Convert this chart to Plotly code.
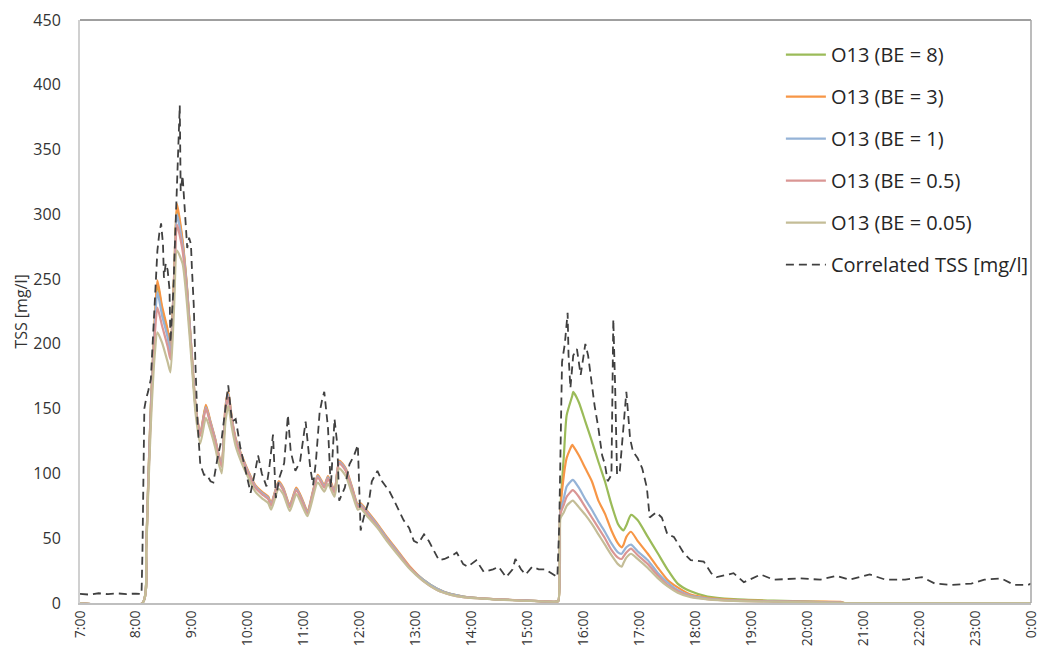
import plotly.graph_objects as go

# ---------------- data ----------------
tick_hours = list(range(7, 25))
tick_labels = ["7:00", "8:00", "9:00", "10:00", "11:00", "12:00", "13:00", "14:00",
               "15:00", "16:00", "17:00", "18:00", "19:00", "20:00", "21:00",
               "22:00", "23:00", "0:00"]

# Correlated TSS (dashed)
tss_time = ["7:00", "7:10", "7:20", "7:30", "7:40", "7:50", "8:00", "8:06", "8:07", "8:09",
            "8:11", "8:13", "8:16", "8:19", "8:21", "8:23", "8:25", "8:27", "8:29", "8:30",
            "8:32", "8:34", "8:36", "8:37", "8:40", "8:43", "8:45", "8:47", "8:48", "8:50",
            "8:52", "8:55", "8:57", "8:59", "9:00", "9:02", "9:04", "9:06", "9:09", "9:13",
            "9:16", "9:20", "9:23", "9:27", "9:32", "9:36", "9:39", "9:43", "9:47", "9:52",
            "9:57", "10:03", "10:08", "10:11", "10:15", "10:20", "10:23", "10:27", "10:30", "10:34",
            "10:39", "10:43", "10:46", "10:51", "10:56", "10:59", "11:02", "11:07", "11:10", "11:13",
            "11:17", "11:20", "11:22", "11:26", "11:29", "11:33", "11:36", "11:38", "11:44", "11:49",
            "11:54", "11:58", "12:01", "12:05", "12:10", "12:13", "12:19", "12:24", "12:32", "12:37",
            "12:42", "12:47", "12:53", "12:58", "13:03", "13:09", "13:14", "13:19", "13:25", "13:31",
            "13:40", "13:44", "13:51", "13:56", "14:05", "14:13", "14:23", "14:29", "14:37", "14:44",
            "14:47", "14:53", "14:58", "15:05", "15:12", "15:19", "15:27", "15:32", "15:34", "15:37",
            "15:40", "15:43", "15:44", "15:46", "15:49", "15:53", "15:57", "16:02", "16:05", "16:09",
            "16:12", "16:16", "16:20", "16:23", "16:26", "16:30", "16:31", "16:32", "16:34", "16:36",
            "16:39", "16:42", "16:46", "16:50", "16:53", "16:58", "17:03", "17:08", "17:11", "17:18",
            "17:24", "17:30", "17:37", "17:48", "17:55", "18:09", "18:17", "18:23", "18:41", "18:52",
            "19:10", "19:24", "19:52", "20:14", "20:31", "20:45", "21:07", "21:24", "21:45", "22:03",
            "22:17", "22:35", "22:56", "23:10", "23:28", "23:42", "23:57", "24:00"]
tss_val = [7, 6.5, 7.5, 6.8, 7.4, 6.9, 7.3, 7, 40, 150,
           158, 163, 173, 215, 242, 272, 285, 293, 277, 251,
           262, 257, 242, 201, 240, 308, 345, 384, 318, 330,
           308, 274, 282, 277, 259, 230, 180, 140, 107, 99,
           99, 94, 93, 110, 127, 152, 168, 140, 142, 120,
           104, 85, 102, 114, 100, 90, 104, 130, 81, 97,
           108, 145, 117, 102, 109, 125, 140, 104, 91, 109,
           147, 158, 163, 135, 89, 142, 122, 79, 89, 107,
           114, 122, 56, 68, 79, 94, 102, 94, 86, 79,
           71, 64, 58, 48, 46, 53, 48, 41, 33, 34,
           37, 39, 30, 28, 33, 24, 26, 28, 20, 26,
           34, 26, 22, 28, 26, 26, 22, 20, 60, 186,
           200, 224, 191, 166, 191, 196, 176, 200, 191, 166,
           152, 135, 114, 107, 94, 99, 160, 219, 166, 99,
           102, 127, 163, 127, 117, 112, 104, 89, 66, 70,
           66, 53, 51, 38, 33, 32, 23, 20, 23, 16,
           22, 18, 19, 18, 21, 18, 22, 18, 18, 20,
           15, 14, 15, 18, 19, 14, 14, 15]

# O13 model series (shared time axis)
o13_time = ["7:00", "8:07", "8:11", "8:13", "8:16", "8:20", "8:23", "8:28", "8:34", "8:37",
            "8:41", "8:44", "8:50", "8:55", "9:00", "9:04", "9:09", "9:15", "9:20", "9:25",
            "9:28", "9:32", "9:36", "9:39", "9:43", "9:47", "9:54", "10:01", "10:08", "10:15",
            "10:22", "10:25", "10:33", "10:38", "10:45", "10:52", "10:59", "11:04", "11:15", "11:22",
            "11:26", "11:33", "11:38", "11:45", "11:52", "11:58", "12:01", "12:08", "12:19", "12:29",
            "12:40", "12:54", "13:08", "13:23", "13:37", "13:51", "14:23", "14:58", "15:30", "15:33",
            "15:35", "15:39", "15:42", "15:48", "15:49", "15:55", "16:02", "16:09", "16:16", "16:23",
            "16:30", "16:37", "16:41", "16:43", "16:46", "16:51", "16:58", "17:09", "17:20", "17:30",
            "17:41", "17:55", "18:13", "18:41", "19:24", "20:06", "20:36", "20:40", "24:00"]
be_8 = [0, 0, 43, 89, 152, 214, 247, 227, 209, 195,
        252, 305, 278, 241, 190, 151, 130, 152, 139, 126,
        116, 106, 150, 161, 141, 126, 112, 100, 90, 85,
        81, 76, 93, 88, 75, 88, 78, 70, 98, 90,
        97, 86, 109, 103, 88, 75, 76, 70, 60, 50,
        40, 27, 18, 11, 7, 5, 3, 2, 1, 1.5,
        70, 114, 145, 160, 163, 155, 140, 125, 109, 94,
        76, 61, 57, 56, 60, 68, 64, 51, 38, 26,
        15, 9, 5, 3, 1.8, 1, 0.5, 0, 0]
be_3 = [0, 0, 43, 89, 152, 216, 249, 229, 211, 196,
        254, 308, 280, 242, 191, 152, 131, 153, 140, 127,
        117, 107, 152, 163, 142, 127, 113, 101, 91, 86,
        82, 77, 94, 89, 76, 89, 79, 71, 99, 91,
        98, 87, 110, 104, 89, 76, 77, 71, 61, 51,
        41, 28, 18, 11, 7, 5, 3, 2, 1, 1.5,
        70, 99, 112, 122, 121, 114, 104, 94, 79, 69,
        56, 46, 43, 45, 51, 55, 48, 38, 27, 18,
        12, 6.5, 4, 2.5, 1.5, 1, 0.8, 0, 0]
be_1 = [0, 0, 43, 88, 150, 212, 240, 222, 205, 192,
        248, 300, 276, 240, 190, 151, 130, 151, 139, 126,
        116, 106, 150, 161, 141, 126, 112, 100, 90, 85,
        81, 76, 93, 88, 75, 88, 78, 70, 98, 90,
        97, 86, 109, 103, 88, 75, 76, 70, 60, 50,
        40, 27, 18, 11, 7, 5, 3, 2, 1, 1.5,
        69, 81, 90, 95, 95, 89, 80, 72, 63, 55,
        46, 39, 38, 40, 43, 45, 40, 33, 23, 16,
        10, 5.5, 3.5, 2, 1.3, 0.8, 0.4, 0, 0]
be_05 = [0, 0, 42, 86, 146, 204, 228, 214, 198, 188,
         243, 292, 272, 236, 188, 150, 129, 150, 138, 125,
         115, 105, 148, 159, 140, 125, 111, 99, 89, 84,
         80, 75, 92, 87, 74, 87, 77, 69, 97, 89,
         96, 85, 108, 102, 87, 74, 75, 69, 59, 49,
         39, 27, 17, 10, 6.5, 4.5, 3, 1.8, 1, 1.5,
         68, 76, 82, 87, 87, 82, 74, 66, 58, 50,
         41, 35, 34, 36, 39, 42, 37, 30, 21, 14,
         9, 5, 3, 1.8, 1.1, 0.6, 0.3, 0, 0]
be_005 = [0, 0, 40, 82, 138, 190, 209, 201, 186, 178,
          230, 272, 262, 229, 183, 146, 123, 143, 133, 120,
          110, 100, 140, 152, 135, 121, 107, 96, 86, 81,
          77, 72, 88, 84, 71, 84, 74, 67, 93, 86,
          92, 82, 104, 98, 84, 72, 73, 67, 58, 48,
          38, 26, 17, 10, 6.5, 4.5, 2.8, 1.7, 1, 1.5,
          65, 70, 75, 79, 79, 74, 68, 61, 53, 45,
          37, 30, 28, 31, 35, 38, 34, 27, 19, 13,
          8, 4.5, 2.8, 1.6, 1, 0.5, 0.2, 0, 0]

series_names = ["O13 (BE = 8)", "O13 (BE = 3)", "O13 (BE = 1)", "O13 (BE = 0.5)", "O13 (BE = 0.05)"]
series_values = [be_8, be_3, be_1, be_05, be_005]
series_colors = ["#9BBB59", "#F79646", "#95B3D7", "#DA9694", "#C4BD97"]


def to_hours(s):
    h, m = s.split(":")
    return int(h) + int(m) / 60.0


x_o13 = [to_hours(t) for t in o13_time]
x_tss = [to_hours(t) for t in tss_time]

fig = go.Figure()
for i, (name, vals, col) in enumerate(zip(series_names, series_values, series_colors)):
    fig.add_trace(go.Scatter(x=x_o13, y=vals, mode="lines", name=name,
                             line=dict(color=col, width=2.2, shape="spline", smoothing=0.6),
                             legendgroup="g%d" % i))
fig.add_trace(go.Scatter(x=x_tss, y=tss_val, mode="lines", name="Correlated TSS [mg/l]",
                         line=dict(color="#404040", width=1.8, dash="8px,5px"), legendgroup="g9"))

font_family = "Open Sans, Noto Sans, sans-serif"
fig.update_layout(
    width=1049, height=655,
    margin=dict(l=80, r=9, t=17, b=48),
    plot_bgcolor="white", paper_bgcolor="white",
    font=dict(family=font_family, size=15, color="#333333"),
    showlegend=True,
    legend=dict(x=0.737, y=0.974, xanchor="left", yanchor="top",
                font=dict(size=20, color="#262626"), itemwidth=40,
                tracegroupgap=13, bgcolor="rgba(0,0,0,0)", traceorder="grouped"),
    xaxis=dict(range=[7, 24], tickmode="array", tickvals=tick_hours, ticktext=tick_labels,
               tickangle=-90, showgrid=False, zeroline=False, showline=True,
               linecolor="#BFBFBF", linewidth=2, ticks="", tickfont=dict(size=14, color="#333333")),
    yaxis=dict(range=[0, 450], dtick=50, showgrid=False, zeroline=False, showline=True,
               linecolor="#D0D0D0", linewidth=2, ticks="outside", ticklen=14,
               tickcolor="rgba(0,0,0,0)",
               title=dict(text="TSS [mg/l]", font=dict(size=16, color="#333333"), standoff=2),
               tickfont=dict(size=16, color="#333333")),
)
# top and right border of the plot area
fig.add_shape(type="line", xref="paper", yref="paper", x0=0, x1=1, y0=1, y1=1,
              line=dict(color="#404040", width=1))
fig.add_shape(type="line", xref="paper", yref="paper", x0=1, x1=1, y0=0, y1=1,
              line=dict(color="#A6A6A6", width=1.5))

fig.write_html("out.html")
